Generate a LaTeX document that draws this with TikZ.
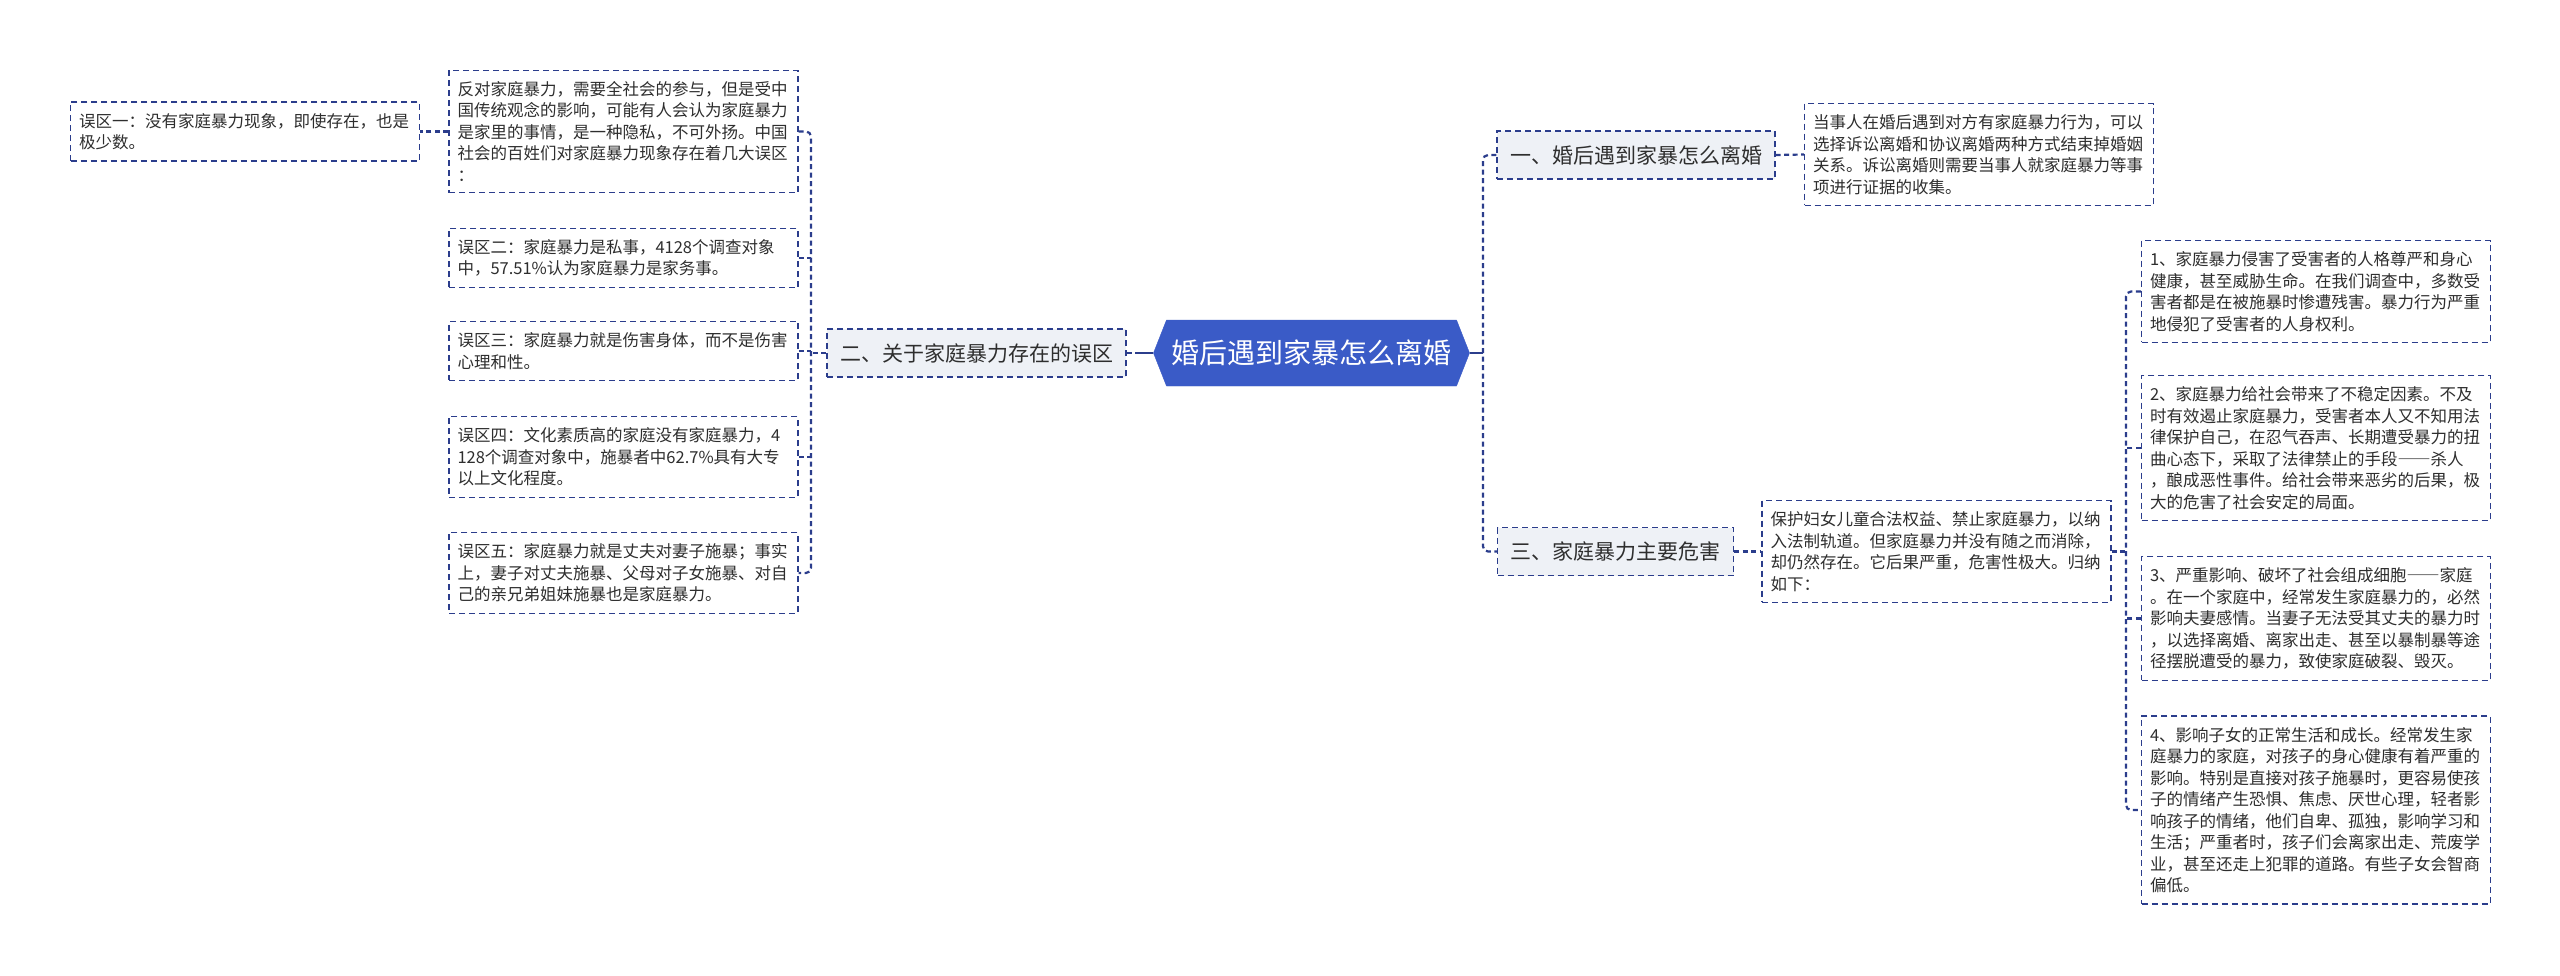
\documentclass[tikz,border=0pt]{standalone}
\usepackage{fontspec}
\setmainfont{Noto Sans CJK SC}
\usepackage{xcolor}
\usepackage{tikz}
\usetikzlibrary{shapes.symbols, positioning, calc}

\definecolor{linkblue}{HTML}{2B3D8C}
\definecolor{rootblue}{HTML}{3A5BC7}
\definecolor{branchgray}{HTML}{EEF1F6}
\definecolor{textgray}{HTML}{2E2E2E}

% full width dash pair
\newcommand{\longdash}{{\addfontfeatures{RawFeature=+fwid}——}}

\begin{document}
\begin{tikzpicture}[
        x=1pt, y=-1pt,
        root/.style={signal, signal to=east and west, signal pointer angle=137, fill=rootblue, draw=rootblue, text=white, minimum width=316pt, minimum height=66pt, inner sep=0pt, font=\fontsize{28pt}{32pt}\selectfont},
        branch/.style={rectangle, draw=linkblue, line width=1.3pt, dash pattern=on 6pt off 4pt, fill=branchgray, minimum height=48pt, inner xsep=13pt, text=textgray, font=\fontsize{21pt}{25pt}\selectfont},
        leaf/.style={rectangle, draw=linkblue, line width=1.3pt, dash pattern=on 6pt off 4pt, fill=white, text width=332pt, inner xsep=8.5pt, inner ysep=11pt, align=left, text=textgray, font=\fontsize{16.5pt}{21.5pt}\selectfont},
        link/.style={draw=linkblue, line width=2.2pt, dash pattern=on 5pt off 3.5pt, rounded corners=5pt},
        trunk/.style={draw=linkblue, line width=2.5pt}
    ]

    \fill[white] (0,0) rectangle (2560,975);
    \useasboundingbox (0,0) rectangle (2560,975);

    % Root
    \node[root] (root) at (1311.5, 353) {婚后遇到家暴怎么离婚};

    % Branch 2: myths (left side)
    \node[branch] (myth_branch) at (976.5, 353) {二、关于家庭暴力存在的误区};
    \node[leaf] (myth_intro) at (623.5, 131.5) {反对家庭暴力，需要全社会的参与，但是受中\\国传统观念的影响，可能有人会认为家庭暴力\\是家里的事情，是一种隐私，不可外扬。中国\\社会的百姓们对家庭暴力现象存在着几大误区\\：};
    \node[leaf] (myth_one) at (245, 131.5) {误区一：没有家庭暴力现象，即使存在，也是\\极少数。};
    \node[leaf] (myth_two) at (623.5, 258) {误区二：家庭暴力是私事，4128个调查对象\\中，57.51\%认为家庭暴力是家务事。};
    \node[leaf] (myth_three) at (623.5, 351) {误区三：家庭暴力就是伤害身体，而不是伤害\\心理和性。};
    \node[leaf] (myth_four) at (623.5, 457) {误区四：文化素质高的家庭没有家庭暴力，4\\128个调查对象中，施暴者中62.7\%具有大专\\以上文化程度。};
    \node[leaf] (myth_five) at (623.5, 573) {误区五：家庭暴力就是丈夫对妻子施暴；事实\\上，妻子对丈夫施暴、父母对子女施暴、对自\\己的亲兄弟姐妹施暴也是家庭暴力。};

    \coordinate (left_hub) at (1140, 353);
    \coordinate (myth_bus) at (811, 353);
    \draw[trunk] (root.west) -- (left_hub);
    \draw[link] (left_hub) -- (myth_branch.east);
    \draw[link] (myth_branch.west) -- (myth_bus);
    \draw[link] (myth_intro.east) -| (myth_bus) |- (myth_five.east);
    \draw[link] (myth_two.east) -- (myth_two.east -| myth_bus);
    \draw[link] (myth_three.east) -- (myth_three.east -| myth_bus);
    \draw[link] (myth_four.east) -- (myth_four.east -| myth_bus);
    \draw[link] (myth_intro.west) -- (myth_one.east);

    % Branch 1: divorce (right side)
    \node[branch] (divorce_branch) at (1636, 155) {一、婚后遇到家暴怎么离婚};
    \node[leaf] (divorce_text) at (1979, 154.5) {当事人在婚后遇到对方有家庭暴力行为，可以\\选择诉讼离婚和协议离婚两种方式结束掉婚姻\\关系。诉讼离婚则需要当事人就家庭暴力等事\\项进行证据的收集。};

    % Branch 3: harm (right side)
    \node[branch] (harm_branch) at (1615.5, 551.5) {三、家庭暴力主要危害};
    \node[leaf] (harm_text) at (1936.5, 551.5) {保护妇女儿童合法权益、禁止家庭暴力，以纳\\入法制轨道。但家庭暴力并没有随之而消除，\\却仍然存在。它后果严重，危害性极大。归纳\\如下：};
    \node[leaf] (harm_one) at (2316, 291.5) {1、家庭暴力侵害了受害者的人格尊严和身心\\健康，甚至威胁生命。在我们调查中，多数受\\害者都是在被施暴时惨遭残害。暴力行为严重\\地侵犯了受害者的人身权利。};
    \node[leaf] (harm_two) at (2316, 448) {2、家庭暴力给社会带来了不稳定因素。不及\\时有效遏止家庭暴力，受害者本人又不知用法\\律保护自己，在忍气吞声、长期遭受暴力的扭\\曲心态下，采取了法律禁止的手段\longdash 杀人\\，酿成恶性事件。给社会带来恶劣的后果，极\\大的危害了社会安定的局面。};
    \node[leaf] (harm_three) at (2316, 618.5) {3、严重影响、破坏了社会组成细胞\longdash 家庭\\。在一个家庭中，经常发生家庭暴力的，必然\\影响夫妻感情。当妻子无法受其丈夫的暴力时\\，以选择离婚、离家出走、甚至以暴制暴等途\\径摆脱遭受的暴力，致使家庭破裂、毁灭。};
    \node[leaf] (harm_four) at (2316, 810) {4、影响子女的正常生活和成长。经常发生家\\庭暴力的家庭，对孩子的身心健康有着严重的\\影响。特别是直接对孩子施暴时，更容易使孩\\子的情绪产生恐惧、焦虑、厌世心理，轻者影\\响孩子的情绪，他们自卑、孤独，影响学习和\\生活；严重者时，孩子们会离家出走、荒废学\\业，甚至还走上犯罪的道路。有些子女会智商\\偏低。};

    \coordinate (right_hub) at (1483, 353);
    \coordinate (harm_bus) at (2126, 551.5);
    \draw[trunk] (root.east) -- (right_hub);
    \draw[link] (divorce_branch.west) -| (right_hub) |- (harm_branch.west);
    \draw[link] (divorce_branch.east) -- (divorce_text.west);
    \draw[link] (harm_branch.east) -- (harm_text.west);
    \draw[link] (harm_text.east) -- (harm_bus);
    \draw[link] (harm_one.west) -| (harm_bus) |- (harm_four.west);
    \draw[link] (harm_two.west) -- (harm_two.west -| harm_bus);
    \draw[link] (harm_three.west) -- (harm_three.west -| harm_bus);

\end{tikzpicture}
\end{document}
